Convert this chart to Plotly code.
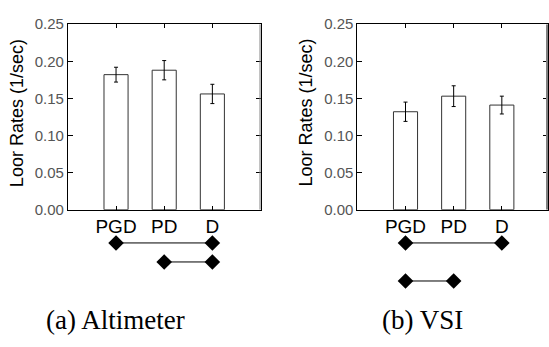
import plotly.graph_objects as go

# Loor rates by display condition
categories = ["PGD", "PD", "D"]
alt_rates = [0.182, 0.188, 0.156]
alt_err = [0.010, 0.013, 0.013]
vsi_rates = [0.132, 0.153, 0.141]
vsi_err = [0.013, 0.014, 0.012]

# Significant pairwise differences (pair of categories, row under the axis)
alt_pairs = [("PGD", "D", 1), ("PD", "D", 2)]
vsi_pairs = [("PGD", "D", 1), ("PGD", "PD", 3)]

y_ticks = [0.00, 0.05, 0.10, 0.15, 0.20, 0.25]
y_tick_text = ["0.00", "0.05", "0.10", "0.15", "0.20", "0.25"]

W, H = 549, 347
pos = {c: i + 1 for i, c in enumerate(categories)}

fig = go.Figure()


def add_panel(rates, errs, pairs, xa, ya, ya_sig):
    fig.add_trace(go.Bar(
        x=[pos[c] for c in categories], y=rates, width=0.5,
        marker=dict(color="white", line=dict(color="#333333", width=1)),
        error_y=dict(type="data", array=errs, color="black", thickness=1, width=2),
        xaxis=xa, yaxis=ya, showlegend=False,
    ))
    for a, b, row in pairs:
        fig.add_trace(go.Scatter(
            x=[pos[a], pos[b]], y=[row, row], mode="lines+markers",
            line=dict(color="black", width=1),
            marker=dict(symbol="diamond", size=12, color="black"),
            xaxis=xa, yaxis=ya_sig, showlegend=False, hoverinfo="skip",
        ))


add_panel(alt_rates, alt_err, alt_pairs, "x", "y", "y3")
add_panel(vsi_rates, vsi_err, vsi_pairs, "x2", "y2", "y4")

xcommon = dict(
    tickmode="array", tickvals=[1, 2, 3], ticktext=categories,
    ticks="inside", ticklen=4, tickcolor="black",
    showline=True, linecolor="black", linewidth=1, mirror="ticks",
    showgrid=False, zeroline=False,
    tickfont=dict(family="Liberation Sans, Arial", size=19, color="black"),
)
ycommon = dict(
    range=[0, 0.25], tickmode="array", tickvals=y_ticks, ticktext=y_tick_text,
    ticks="inside", ticklen=5, tickcolor="black",
    showline=True, linecolor="black", linewidth=1, mirror="ticks",
    showgrid=False, zeroline=False,
    tickfont=dict(family="Liberation Sans, Arial", size=15, color="#555555"),
)
sigcommon = dict(range=[4, 0], visible=False, domain=[41 / H, 121 / H])

ydom = [(H - 211) / H, (H - 16) / H]

fig.update_layout(
    width=W, height=H,
    margin=dict(l=0, r=0, t=0, b=0),
    paper_bgcolor="white", plot_bgcolor="white",
    xaxis=dict(xcommon, domain=[68 / W, 261 / W], range=[0, 4], anchor="y"),
    yaxis=dict(ycommon, domain=ydom, anchor="x"),
    xaxis2=dict(xcommon, domain=[358 / W, 1.0], range=[0, 191 / 48.25], anchor="y2"),
    yaxis2=dict(ycommon, domain=ydom, anchor="x2"),
    yaxis3=dict(sigcommon, anchor="x"),
    yaxis4=dict(sigcommon, anchor="x2"),
)

# Grey right-hand frame edges
fig.add_shape(type="line", xref="x", yref="y", x0=4, x1=4, y0=0, y1=0.25,
              line=dict(color="#808080", width=2))
fig.add_shape(type="line", xref="paper", yref="y2", x0=548 / W, x1=548 / W, y0=0, y1=0.25,
              line=dict(color="#808080", width=2))

title_font = dict(family="Liberation Sans, Arial", size=18, color="black")
for xc in (16.5, 306.5):
    fig.add_annotation(text="Loor Rates (1/sec)", textangle=-90, showarrow=False,
                       xref="paper", yref="paper", x=xc / W, y=(H - 109) / H,
                       xanchor="center", yanchor="middle", font=title_font)

cap_font = dict(family="Liberation Serif, Times New Roman", size=27, color="black")
for xc, txt in ((116, "(a) Altimeter"), (423, "(b) VSI")):
    fig.add_annotation(text=txt, showarrow=False, xref="paper", yref="paper",
                       x=xc / W, y=(H - 327) / H, xanchor="center", yanchor="middle",
                       font=cap_font)

fig.write_html("out.html")
